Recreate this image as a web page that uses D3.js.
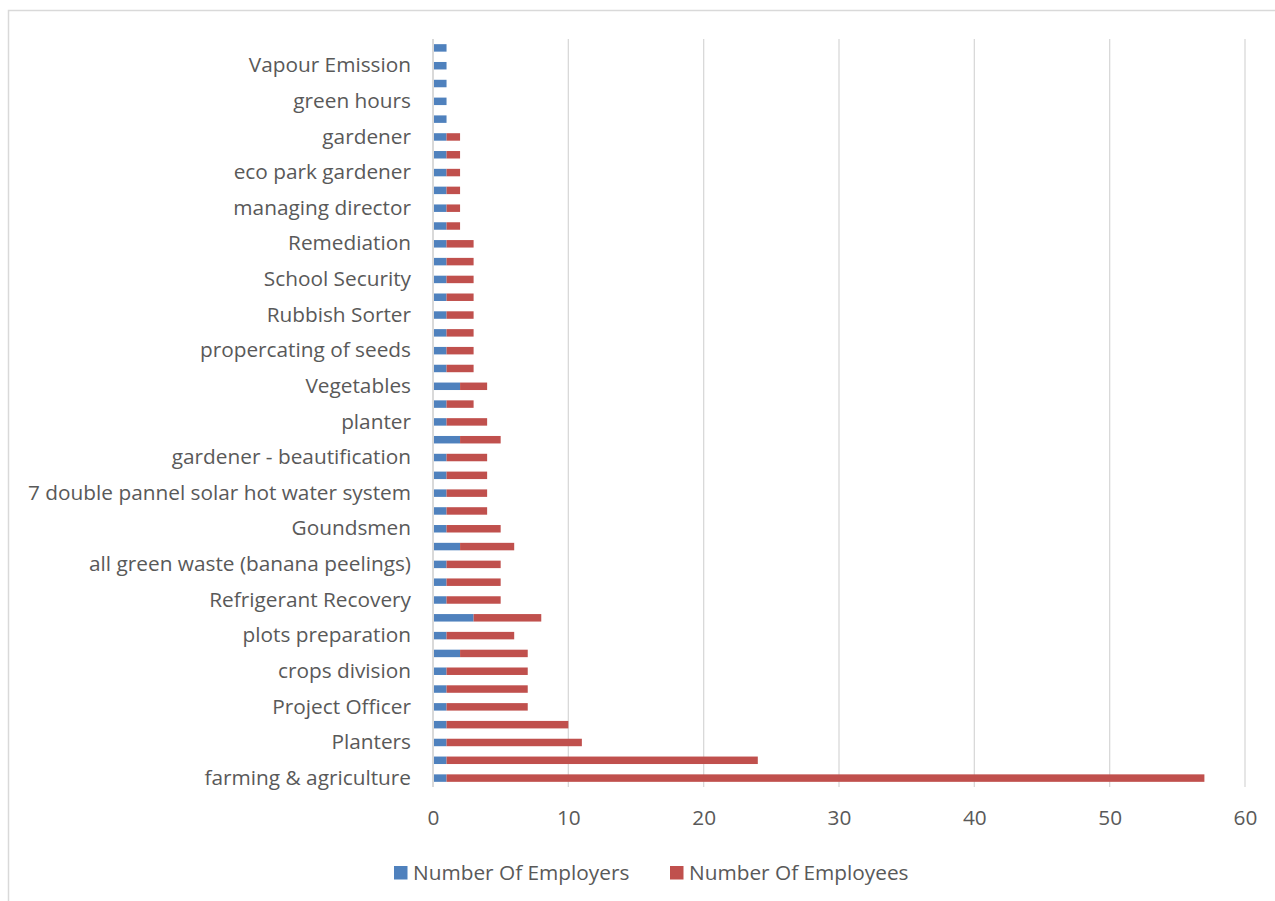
<!DOCTYPE html>
<html>
<head>
<meta charset="utf-8">
<script src="https://cdn.jsdelivr.net/npm/d3@7"></script>
<style>
  html, body { margin: 0; padding: 0; background: #fff; }
  svg { display: block; }
  text { font-family: "Open Sans", "Noto Sans", sans-serif; fill: #595959; }
</style>
</head>
<body>
<svg id="chart" width="1275" height="901"></svg>
<script>
// Categories listed from the bottom bar upward; only every other one carries a label.
const categories = [
  "farming & agriculture", "", "Planters", "", "Project Officer", "",
  "crops division", "", "plots preparation", "", "Refrigerant Recovery", "",
  "all green waste (banana peelings)", "", "Goundsmen", "",
  "7 double pannel solar hot water system", "", "gardener - beautification", "",
  "planter", "", "Vegetables", "", "propercating of seeds", "",
  "Rubbish Sorter", "", "School Security", "", "Remediation", "",
  "managing director", "", "eco park gardener", "", "gardener", "",
  "green hours", "", "Vapour Emission", ""
];
const employers = [1,1,1,1,1,1,1,2,1,3,1,1,1,2,1,1,1,1,1,2,1,1,2,1,1,1,1,1,1,1,1,1,1,1,1,1,1,1,1,1,1,1];
const employees = [56,23,10,9,6,6,6,5,5,5,4,4,4,4,4,3,3,3,3,3,3,2,2,2,2,2,2,2,2,2,2,1,1,1,1,1,1,0,0,0,0,0];
const seriesNames = ["Number Of Employers", "Number Of Employees"];
const seriesColors = ["#4f81bd", "#c0504d"];
const xTicks = [0, 10, 20, 30, 40, 50, 60];

const FONT_SIZE = 20.8;
const svg = d3.select("#chart");

// outer chart frame
svg.append("rect")
  .attr("x", 8.5).attr("y", 10.5)
  .attr("width", 1300).attr("height", 920)
  .attr("fill", "none").attr("stroke", "#d9d9d9").attr("stroke-width", 1.5);

const plot = { left: 433, right: 1245, top: 39, bottom: 787 };

const x = d3.scaleLinear().domain([0, 60]).range([plot.left, plot.right]);
const idx = d3.range(categories.length);
const y = d3.scaleBand()
  .domain(idx.slice().reverse())
  .range([plot.top, plot.bottom])
  .paddingInner(0.58).paddingOuter(0.29);

// vertical gridlines
svg.append("g").selectAll("line")
  .data(xTicks.filter(t => t > 0))
  .join("line")
  .attr("x1", d => x(d)).attr("x2", d => x(d))
  .attr("y1", plot.top).attr("y2", plot.bottom)
  .attr("stroke", "#d9d9d9").attr("stroke-width", 1.3);

// stacked data
const rows = idx.map(i => ({ i, employers: employers[i], employees: employees[i] }));
const stack = d3.stack().keys(["employers", "employees"]);
const layers = stack(rows);

svg.append("g").selectAll("g")
  .data(layers)
  .join("g")
  .attr("fill", (d, k) => seriesColors[k])
  .selectAll("rect")
  .data(d => d.filter(p => p[1] > p[0]))
  .join("rect")
  .attr("x", d => x(d[0]))
  .attr("width", d => x(d[1]) - x(d[0]))
  .attr("y", d => y(d.data.i))
  .attr("height", y.bandwidth());

// category axis line at zero
svg.append("line")
  .attr("x1", x(0)).attr("x2", x(0))
  .attr("y1", plot.top).attr("y2", plot.bottom)
  .attr("stroke", "#d9d9d9").attr("stroke-width", 2);

// category labels
const yAxis = d3.axisLeft(y)
  .tickValues(idx.filter(i => categories[i] !== ""))
  .tickFormat(i => categories[i])
  .tickSize(0).tickPadding(22);
const gy = svg.append("g").attr("transform", `translate(${x(0)},0)`).call(yAxis);
gy.select(".domain").remove();
gy.selectAll("text").attr("font-size", FONT_SIZE).attr("fill", "#595959")
  .style("font-family", '"Open Sans", sans-serif');

// value axis labels
const xAxis = d3.axisBottom(x).tickValues(xTicks).tickSize(0).tickPadding(0);
const gx = svg.append("g").attr("transform", `translate(0,${plot.bottom + 23})`).call(xAxis);
gx.select(".domain").remove();
gx.selectAll("text").attr("font-size", FONT_SIZE).attr("fill", "#595959")
  .style("font-family", '"Open Sans", sans-serif');

// legend
const legendPos = [394, 670];
const legend = svg.append("g");
seriesNames.forEach((name, k) => {
  legend.append("rect")
    .attr("x", legendPos[k]).attr("y", 866)
    .attr("width", 13.5).attr("height", 13.5)
    .attr("fill", seriesColors[k]);
  legend.append("text")
    .attr("x", legendPos[k] + 19).attr("y", 873)
    .attr("dy", "0.35em")
    .attr("font-size", FONT_SIZE)
    .text(name);
});
</script>
</body>
</html>
